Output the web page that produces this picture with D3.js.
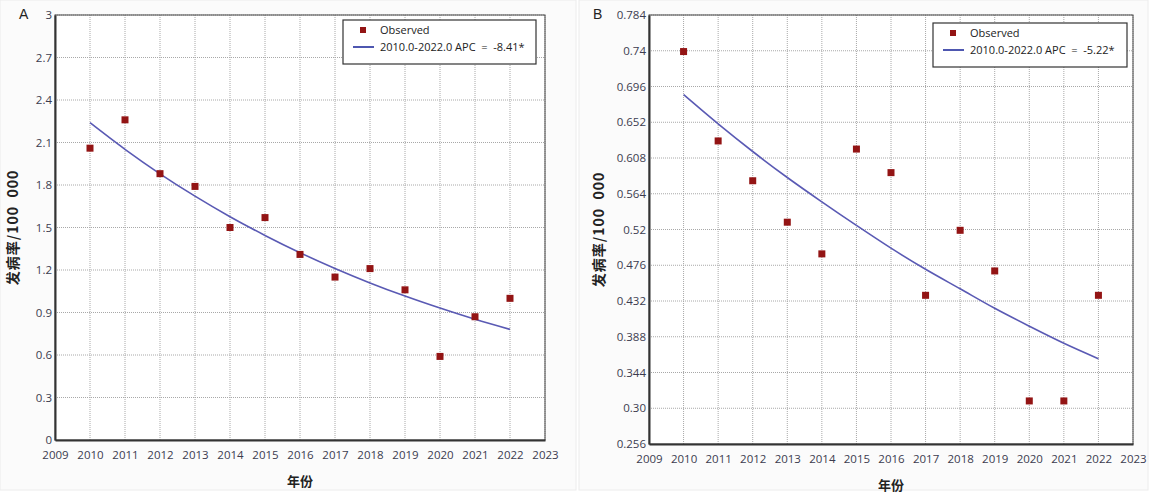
<!DOCTYPE html>
<html>
<head>
<meta charset="utf-8">
<script src="https://cdn.jsdelivr.net/npm/d3@7"></script>
<style>
  body { margin: 0; background: #fff; }
  svg { display: block; }
  text { white-space: pre; }
  .tick text { font-family: "Open Sans", "Noto Sans", sans-serif; font-size: 11.5px; fill: #3b3b4f; }
</style>
</head>
<body>
<svg id="chart" width="1154" height="495"></svg>
<script>
// years on the x axis
var years = [2010, 2011, 2012, 2013, 2014, 2015, 2016, 2017, 2018, 2019, 2020, 2021, 2022];
var xTicks = [2009, 2010, 2011, 2012, 2013, 2014, 2015, 2016, 2017, 2018, 2019, 2020, 2021, 2022, 2023];

// panel A
var observedA = [2.06, 2.26, 1.88, 1.79, 1.50, 1.57, 1.31, 1.15, 1.21, 1.06, 0.59, 0.87, 1.00];
var fittedA = [2.240, 2.052, 1.879, 1.721, 1.576, 1.444, 1.322, 1.211, 1.109, 1.016, 0.931, 0.852, 0.781];
var yTicksA = [0, 0.3, 0.6, 0.9, 1.2, 1.5, 1.8, 2.1, 2.4, 2.7, 3];
var yTickLabelsA = ["0", "0.3", "0.6", "0.9", "1.2", "1.5", "1.8", "2.1", "2.4", "2.7", "3"];
var legendA = "2010.0-2022.0 APC  =  -8.41*";

// panel B
var observedB = [0.739, 0.629, 0.580, 0.529, 0.490, 0.619, 0.590, 0.439, 0.519, 0.469, 0.309, 0.309, 0.439];
var fittedB = [0.686, 0.650, 0.616, 0.584, 0.554, 0.525, 0.497, 0.471, 0.447, 0.423, 0.401, 0.380, 0.361];
var yTicksB = [0.256, 0.30, 0.344, 0.388, 0.432, 0.476, 0.52, 0.564, 0.608, 0.652, 0.696, 0.74, 0.784];
var yTickLabelsB = ["0.256", "0.30", "0.344", "0.388", "0.432", "0.476", "0.52", "0.564", "0.608", "0.652", "0.696", "0.74", "0.784"];
var legendB = "2010.0-2022.0 APC  =  -5.22*";

var svg = d3.select("#chart");

function drawPanel(p) {
  var g = svg.append("g");

  // panel background
  g.append("rect")
    .attr("x", p.px).attr("y", 0)
    .attr("width", p.pw).attr("height", 490)
    .attr("fill", "#fbfbfb")
    .attr("stroke", "#ececec");

  var x = d3.scaleLinear().domain([2009, 2023]).range([p.left, p.right]);
  var y = d3.scaleLinear().domain(p.yDomain).range([p.bottom, p.top]);

  g.append("rect")
    .attr("x", p.left).attr("y", p.top)
    .attr("width", p.right - p.left).attr("height", p.bottom - p.top)
    .attr("fill", "#fff");

  // dotted grid
  g.selectAll(".vgrid")
    .data(years.concat([2023]))
    .enter()
    .append("line")
    .attr("class", "vgrid")
    .attr("x1", function (d) { return x(d); })
    .attr("x2", function (d) { return x(d); })
    .attr("y1", p.top).attr("y2", p.bottom)
    .attr("stroke", "#a8a8a8")
    .attr("stroke-dasharray", "1,1");

  g.selectAll(".hgrid")
    .data(p.yTicks.slice(1))
    .enter()
    .append("line")
    .attr("class", "hgrid")
    .attr("x1", p.left).attr("x2", p.right)
    .attr("y1", function (d) { return y(d); })
    .attr("y2", function (d) { return y(d); })
    .attr("stroke", "#a8a8a8")
    .attr("stroke-dasharray", "1,1");

  // frame
  g.append("rect")
    .attr("x", p.left).attr("y", p.top)
    .attr("width", p.right - p.left).attr("height", p.bottom - p.top)
    .attr("fill", "none")
    .attr("stroke", "#444")
    .attr("stroke-width", 1);

  // axes
  var xAxis = d3.axisBottom(x)
    .tickValues(xTicks)
    .tickFormat(d3.format("d"))
    .tickSize(0)
    .tickPadding(11);
  g.append("g")
    .attr("transform", "translate(0," + p.bottom + ")")
    .call(xAxis)
    .call(function (a) {
      a.select(".domain").attr("stroke", "#333").attr("stroke-width", 2);
    });

  var yAxis = d3.axisLeft(y)
    .tickValues(p.yTicks)
    .tickFormat(function (d, i) { return p.yLabels[i]; })
    .tickSize(0)
    .tickPadding(3);
  g.append("g")
    .attr("transform", "translate(" + p.left + ",0)")
    .call(yAxis)
    .call(function (a) {
      a.select(".domain").attr("stroke", "#333").attr("stroke-width", 2);
      a.selectAll(".tick text").attr("dy", "0.32em");
    });

  // fitted line
  var line = d3.line()
    .x(function (d, i) { return x(years[i]); })
    .y(function (d) { return y(d); })
    .curve(d3.curveMonotoneX);
  g.append("path")
    .datum(p.fitted)
    .attr("d", line)
    .attr("fill", "none")
    .attr("stroke", "#5a5ab4")
    .attr("stroke-width", 1.6);

  // observed points
  g.selectAll(".obs")
    .data(p.observed)
    .enter()
    .append("rect")
    .attr("class", "obs")
    .attr("x", function (d, i) { return x(years[i]) - 3.5; })
    .attr("y", function (d) { return y(d) - 3.5; })
    .attr("width", 7).attr("height", 7)
    .attr("fill", "#931414");

  // legend
  var lg = g.append("g").attr("transform", "translate(" + p.legendX + "," + p.legendY + ")");
  lg.append("rect")
    .attr("width", p.legendW).attr("height", 44)
    .attr("fill", "#fff")
    .attr("stroke", "#333")
    .attr("stroke-width", 1.2);
  lg.append("rect")
    .attr("x", 17).attr("y", 7).attr("width", 6).attr("height", 6)
    .attr("fill", "#931414");
  lg.append("text")
    .attr("x", 37).attr("y", 14)
    .attr("font-family", "Open Sans, Noto Sans, sans-serif")
    .attr("font-size", 11).attr("fill", "#222")
    .text("Observed");
  lg.append("line")
    .attr("x1", 10).attr("x2", 31)
    .attr("y1", 27).attr("y2", 27)
    .attr("stroke", "#3a44a8").attr("stroke-width", 1.8);
  lg.append("text")
    .attr("x", 37).attr("y", 31)
    .attr("font-family", "Open Sans, Noto Sans, sans-serif")
    .attr("font-size", 11).attr("fill", "#222")
    .text(p.legendText);

  // panel letter
  g.append("text")
    .attr("x", p.letterX).attr("y", 19)
    .attr("font-family", "Liberation Sans, Arial, sans-serif")
    .attr("font-size", 14).attr("fill", "#222")
    .text(p.letter);

  // axis titles
  g.append("text")
    .attr("transform", "translate(" + p.yTitleX + "," + ((p.top + p.bottom) / 2) + ") rotate(-90)")
    .attr("text-anchor", "middle")
    .attr("font-family", "Noto Sans CJK SC, sans-serif")
    .attr("font-size", 14).attr("font-weight", "bold").attr("fill", "#222")
    .attr("letter-spacing", 1)
    .text("发病率/100  000");
  g.append("text")
    .attr("x", (p.left + p.right) / 2).attr("y", p.bottom + 46)
    .attr("text-anchor", "middle")
    .attr("font-family", "Noto Sans CJK SC, sans-serif")
    .attr("font-size", 13).attr("font-weight", "bold").attr("fill", "#222")
    .text("年份");
}

drawPanel({
  px: 0, pw: 576,
  left: 55, right: 545, top: 15, bottom: 440,
  yDomain: [0, 3], yTicks: yTicksA, yLabels: yTickLabelsA,
  observed: observedA, fitted: fittedA,
  legendX: 343, legendY: 20, legendW: 193, legendText: legendA,
  letter: "A", letterX: 19, yTitleX: 18
});

drawPanel({
  px: 579, pw: 569,
  left: 649, right: 1133, top: 15, bottom: 444,
  yDomain: [0.256, 0.784], yTicks: yTicksB, yLabels: yTickLabelsB,
  observed: observedB, fitted: fittedB,
  legendX: 933, legendY: 23, legendW: 194, legendText: legendB,
  letter: "B", letterX: 593, yTitleX: 604
});
</script>
</body>
</html>
